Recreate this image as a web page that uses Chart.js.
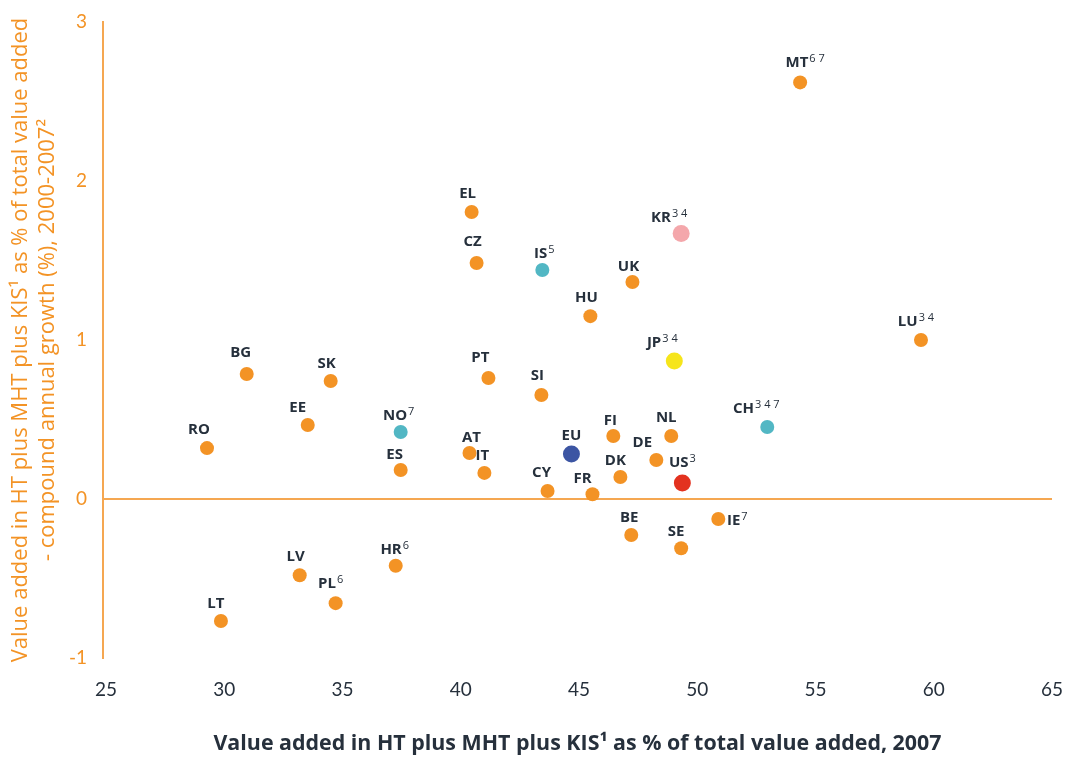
<!DOCTYPE html>
<html>
<head>
<meta charset="utf-8">
<script src="https://cdn.jsdelivr.net/npm/chart.js@4.4.1/dist/chart.umd.min.js"></script>
<style>
html,body{margin:0;padding:0;background:#fff;}
#wrap{width:1069px;height:757px;position:relative;}
</style>
</head>
<body>
<div id="wrap"><canvas id="c" width="1069" height="757"></canvas></div>
<script>
// ---- data ----
const countries = ['MT','EL','CZ','IS','KR','UK','HU','LU','JP','BG','SK','PT','SI','EE','NO','CH','RO','FI','NL','AT','EU','DE','ES','IT','DK','US','CY','FR','IE','BE','SE','HR','LV','PL','LT'];
const notes     = ['6 7','','','5','3 4','','','3 4','3 4','','','','','','7','3 4 7','','','','','','','','','','3','','','7','','','6','','6',''];
const xValues   = [54.35,40.46,40.67,43.45,49.32,47.26,45.48,59.46,49.03,30.95,34.50,41.17,43.41,33.53,37.46,52.96,29.27,46.45,48.90,40.37,44.68,48.27,37.46,41.00,46.75,49.37,43.67,45.57,50.89,47.21,49.32,37.25,33.19,34.71,29.86];
const yValues   = [2.62,1.805,1.484,1.44,1.67,1.365,1.15,1.00,0.868,0.786,0.742,0.761,0.654,0.465,0.421,0.453,0.32,0.396,0.396,0.289,0.283,0.245,0.182,0.164,0.138,0.10,0.05,0.03,-0.126,-0.226,-0.31,-0.42,-0.48,-0.655,-0.767];
const groups    = ['EU27','EU27','EU27','EFTA','KR','EU27','EU27','EU27','JP','EU27','EU27','EU27','EU27','EU27','EFTA','EFTA','EU27','EU27','EU27','EU27','EU','EU27','EU27','EU27','EU27','US','EU27','EU27','EU27','EU27','EU27','EU27','EU27','EU27','EU27'];
const xTicks = [25,30,35,40,45,50,55,60,65];
const yTicks = [-1,0,1,2,3];
const xTitle = 'Value added in HT plus MHT plus KIS\u00b9 as % of total value added, 2007';
const yTitle = ['Value added in HT plus MHT plus KIS\u00b9 as % of total value added', '- compound annual growth (%), 2000-2007\u00b2'];

// ---- styles ----
const groupColor = {EU27:'#F39325', EFTA:'#52B7C4', KR:'#F4A7AB', JP:'#F6E51B', EU:'#3C55A3', US:'#E3321F'};
const groupRadius = {EU27:7, EFTA:7, KR:8.5, JP:8.5, EU:8.5, US:8.5};
const labelOffsets = {
  MT:[5,-20], EL:[-4,-18], CZ:[-4,-21], IS:[2,-16], KR:[-12,-16], UK:[-4,-15], HU:[-4,-18],
  LU:[-5,-18], JP:[-12,-18], BG:[-6,-21], SK:[-4,-17], PT:[-8,-20], SI:[-4,-19], EE:[-10,-17],
  NO:[-2,-16], CH:[-11,-18], RO:[-8,-18], FI:[-3,-15], NL:[-5,-18], AT:[2,-15], EU:[0,-18],
  DE:[-14,-17], ES:[-6,-15], IT:[-2,-17], DK:[-5,-16], US:[0,-20], CY:[-6,-18], FR:[-10,-15],
  IE:[19,2], BE:[-2,-17], SE:[-5,-17], HR:[-1,-16], LV:[-4,-19], PL:[-5,-19], LT:[-5,-17]
};
const ORANGE = '#F39325';
const AXIS = '#F5A751';
const DARK = '#26303C';

const labelPlugin = {
  id:'pointLabels',
  afterDatasetsDraw(chart){
    const ctx = chart.ctx;
    const meta = chart.getDatasetMeta(0);
    ctx.save();
    ctx.fillStyle = DARK;
    ctx.textBaseline = 'middle';
    meta.data.forEach((pt,i)=>{
      const name = countries[i];
      const sup = notes[i];
      const off = labelOffsets[name] || [0,-18];
      ctx.font = 'bold 15px "Open Sans"';
      const w1 = ctx.measureText(name).width;
      ctx.font = '11px "Open Sans"';
      const w2 = sup ? ctx.measureText(sup).width + 1 : 0;
      const total = w1 + w2;
      const cx = pt.x + off[0];
      const cy = pt.y + off[1];
      const x0 = cx - total/2;
      ctx.textAlign = 'left';
      ctx.font = 'bold 15px "Open Sans"';
      ctx.fillText(name, x0, cy);
      if (sup){
        ctx.font = '11px "Open Sans"';
        ctx.fillText(sup, x0 + w1 + 1, cy - 4);
      }
    });
    ctx.restore();
  }
};

const points = xValues.map((x,i)=>({x:x, y:yValues[i]}));

new Chart(document.getElementById('c'), {
  type:'scatter',
  data:{
    datasets:[{
      data: points,
      pointBackgroundColor: groups.map(g=>groupColor[g]),
      pointBorderColor: groups.map(g=>groupColor[g]),
      pointRadius: groups.map(g=>groupRadius[g]),
      pointHoverRadius: groups.map(g=>groupRadius[g]),
      borderWidth: 0
    }]
  },
  options:{
    responsive:false,
    animation:false,
    layout:{padding:{top:22,right:17,left:0,bottom:0}},
    plugins:{legend:{display:false}, tooltip:{enabled:false}},
    scales:{
      x:{
        type:'linear', min:24.873, max:65,
        afterBuildTicks(s){ s.ticks = xTicks.map(v=>({value:v})); },
        grid:{display:false, drawTicks:false},
        border:{display:false},
        ticks:{color:DARK, padding:20, font:{family:'Lato', size:19}},
        title:{display:true, text:xTitle, color:DARK, font:{family:'Open Sans', size:21.4, weight:'bold'}, padding:{top:22,bottom:0}},
        afterFit(s){ s.height = 99; s.paddingRight = 0; s.paddingLeft = 0; }
      },
      y:{
        type:'linear', min:-1, max:3,
        afterBuildTicks(s){ s.ticks = yTicks.map(v=>({value:v})); },
        grid:{drawTicks:false, lineWidth:2, color:(c)=> (c.tick && c.tick.value===0) ? AXIS : 'rgba(0,0,0,0)'},
        border:{display:true, color:AXIS, width:2},
        ticks:{color:ORANGE, padding:16, font:{family:'Lato', size:19}},
        title:{display:true, text:yTitle, color:ORANGE, font:{family:'Open Sans', size:22}, padding:{top:8,bottom:0}},
        afterFit(s){ s.width = 103; s.paddingTop = 0; s.paddingBottom = 0; }
      }
    }
  },
  plugins:[labelPlugin]
});
</script>
</body>
</html>
